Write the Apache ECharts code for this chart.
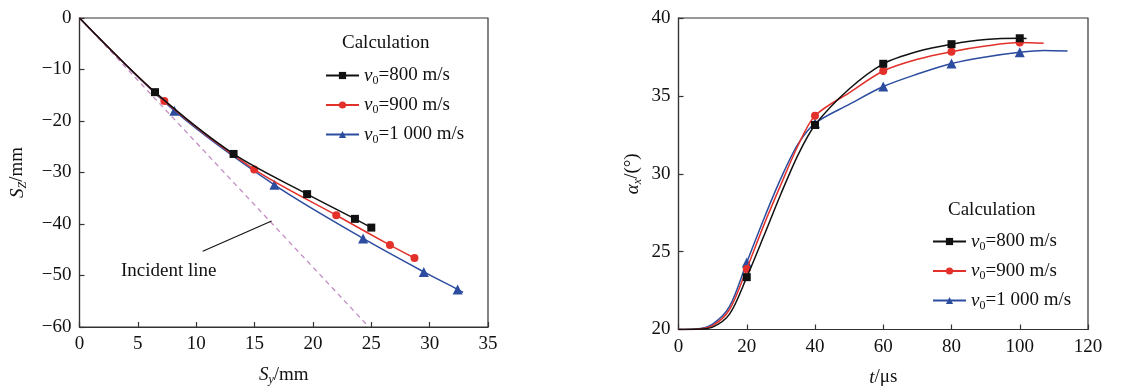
<!DOCTYPE html>
<html><head><meta charset="utf-8">
<script src="https://cdn.jsdelivr.net/npm/echarts@6/dist/echarts.min.js"></script>
<style>html,body{margin:0;padding:0;background:#fff}#c{width:1139px;height:392px}</style>
</head><body><div id="c"></div>
<script>
// ---- Left chart: trajectory Sy vs Sz ----
const sy800 = [0, 6.47, 13.2, 19.5, 23.6, 25.0];
const sz800 = [0, -14.4, -26.4, -34.2, -39.0, -40.7];
const sy900 = [0, 7.27, 14.97, 22.0, 26.6, 28.7];
const sz900 = [0, -16.1, -29.4, -38.3, -44.1, -46.6];
const sy1000 = [0, 8.13, 16.7, 24.3, 29.5, 32.4, 32.86];
const sz1000 = [0, -18.0, -32.4, -42.8, -49.3, -52.7, -53.3];
const leftMarked800 = [false, true, true, true, true, true];
const leftMarked900 = [false, true, true, true, true, true];
const leftMarked1000 = [false, true, true, true, true, true, false];
const incidentSy = [0, 24.8];
const incidentSz = [0, -60];
const pointerSy = [10.56, 16.46];
const pointerSz = [-45.3, -39.4];

// ---- Right chart: angle vs time ----
const t800 = [0, 5, 10, 15, 20, 25, 30, 35, 40, 50, 60, 70, 80, 90, 100, 102];
const a800 = [20, 20.01, 20.15, 21.0, 23.36, 26.0, 28.7, 31.2, 33.13, 35.44, 37.06, 37.85, 38.32, 38.62, 38.70, 38.68];
const t900 = [0, 5, 10, 15, 20, 25, 30, 35, 40, 50, 60, 70, 80, 90, 100, 107];
const a900 = [20, 20.02, 20.25, 21.3, 23.89, 26.7, 29.3, 31.8, 33.72, 35.2, 36.6, 37.35, 37.84, 38.2, 38.42, 38.38];
const t1000 = [0, 5, 10, 15, 20, 25, 30, 35, 40, 50, 60, 70, 80, 90, 100, 107, 114];
const a1000 = [20, 20.03, 20.35, 21.5, 24.3, 27.1, 29.7, 31.9, 33.24, 34.45, 35.6, 36.4, 37.08, 37.5, 37.8, 37.92, 37.88];
const markerTimes = [20, 40, 60, 80, 100];

const seriesNames = ['v0=800 m/s', 'v0=900 m/s', 'v0=1 000 m/s'];
const legendLabels = ['800 m/s', '900 m/s', '1 000 m/s'];
const legendTitle = 'Calculation';

const FONT = '"Liberation Serif","DejaVu Serif",serif';
const COLORS = ['#111111', '#e3302a', '#2b4c9f'];
const SYMBOLS = ['rect', 'circle', 'triangle'];
const SIZES = [8, 8, 10];

function pairs(xs, ys, marks) {
  return xs.map((x, i) => marks[i] ? [x, ys[i]] : {value: [x, ys[i]], symbol: 'none'});
}
function timePairs(ts, as) {
  return ts.map((t, i) => markerTimes.indexOf(t) >= 0 ? [t, as[i]] : {value: [t, as[i]], symbol: 'none'});
}
const minus = v => v < 0 ? '\u2212' + Math.abs(v) : String(v);

const richBase = {
  n: {fontFamily: FONT, fontSize: 19, color: '#111', lineHeight: 24, verticalAlign: 'middle'},
  i: {fontFamily: FONT, fontSize: 19, fontStyle: 'italic', color: '#111', lineHeight: 24, verticalAlign: 'middle'},
  s: {fontFamily: FONT, fontSize: 12, fontStyle: 'italic', color: '#111', lineHeight: 24, verticalAlign: 'bottom', padding: [0, 0, 1, 0]},
  s0: {fontFamily: FONT, fontSize: 12, color: '#111', lineHeight: 24, verticalAlign: 'bottom', padding: [0, 0, 1, 0]}
};

function legendFmt(name) {
  const k = seriesNames.indexOf(name);
  return '{i|v}{s0|0}{n|=' + legendLabels[k] + '}';
}

function axisCommon() {
  return {
    axisLine: {show: true, onZero: false, lineStyle: {color: '#333', width: 1.2}},
    axisTick: {show: true, inside: true, length: 5, lineStyle: {color: '#333', width: 1.2}},
    splitLine: {show: false},
    axisLabel: {fontFamily: FONT, fontSize: 19, color: '#111', margin: 8, formatter: minus},
    nameLocation: 'middle',
    nameTextStyle: {rich: richBase}
  };
}

const series = [];
const leftX = [sy800, sy900, sy1000], leftY = [sz800, sz900, sz1000], leftM = [leftMarked800, leftMarked900, leftMarked1000];
for (let k = 0; k < 3; k++) {
  series.push({
    name: seriesNames[k], type: 'line', xAxisIndex: 0, yAxisIndex: 0,
    data: pairs(leftX[k], leftY[k], leftM[k]), smooth: 0.3,
    symbol: SYMBOLS[k], symbolSize: SIZES[k], showAllSymbol: true,
    lineStyle: {color: COLORS[k], width: 1.5}, itemStyle: {color: COLORS[k]},
    z: 5 - k, animation: false
  });
}
series.push({
  name: 'incident', type: 'line', xAxisIndex: 0, yAxisIndex: 0,
  data: incidentSy.map((x, i) => [x, incidentSz[i]]), symbol: 'none',
  lineStyle: {color: '#c48dc4', width: 1.3, type: [5, 4]}, z: 1, animation: false
});
series.push({
  name: 'pointer', type: 'line', xAxisIndex: 0, yAxisIndex: 0,
  data: pointerSy.map((x, i) => [x, pointerSz[i]]), symbol: 'none',
  lineStyle: {color: '#111', width: 1.1}, z: 2, animation: false
});
const rightX = [t800, t900, t1000], rightY = [a800, a900, a1000];
for (let k = 0; k < 3; k++) {
  series.push({
    name: seriesNames[k], type: 'line', xAxisIndex: 1, yAxisIndex: 1,
    data: timePairs(rightX[k], rightY[k]), smooth: 0.3,
    symbol: SYMBOLS[k], symbolSize: SIZES[k], showAllSymbol: true,
    lineStyle: {color: COLORS[k], width: 1.5}, itemStyle: {color: COLORS[k]},
    z: 5 - k, animation: false
  });
}

const legendCommon = {
  orient: 'vertical', itemWidth: 33, itemHeight: 9, itemGap: 8,
  data: seriesNames, formatter: legendFmt, selectedMode: false,
  textStyle: {rich: richBase, padding: [0, 0, 0, 0]}
};

const chart = echarts.init(document.getElementById('c'), null, {renderer: 'canvas'});
chart.setOption({
  animation: false,
  backgroundColor: '#fff',
  grid: [
    {left: 79.5, top: 18, width: 408.5, height: 317, show: true, borderColor: '#333', borderWidth: 1.2, containLabel: false},
    {left: 678.5, top: 18, width: 409.5, height: 317, show: true, borderColor: '#333', borderWidth: 1.2, containLabel: false}
  ],
  xAxis: [
    Object.assign(axisCommon(), {gridIndex: 0, type: 'value', min: 0, max: 35, interval: 5,
      name: '{i|S}{s|y}{n|/mm}', nameGap: 36}),
    Object.assign(axisCommon(), {gridIndex: 1, type: 'value', min: 0, max: 120, interval: 20,
      name: '{i|t}{n|/\u03bcs}', nameGap: 36})
  ],
  yAxis: [
    Object.assign(axisCommon(), {gridIndex: 0, type: 'value', min: -60, max: 0, interval: 10,
      name: '{i|S}{s|Z}{n|/mm}', nameGap: 50}),
    Object.assign(axisCommon(), {gridIndex: 1, type: 'value', min: 20, max: 40, interval: 5,
      name: '{i|\u03b1}{s|x}{n|/(\u00b0)}', nameGap: 34})
  ],
  legend: [
    Object.assign({}, legendCommon, {left: 320, top: 61}),
    Object.assign({}, legendCommon, {left: 927, top: 227})
  ],
  graphic: [
    {type: 'text', left: 342, top: 34, style: {text: legendTitle, font: '19px ' + FONT, fill: '#111'}},
    {type: 'text', left: 948, top: 201, style: {text: legendTitle, font: '19px ' + FONT, fill: '#111'}},
    {type: 'text', left: 121, top: 262, style: {text: 'Incident line', font: '19px ' + FONT, fill: '#111'}}
  ],
  series: series
});
</script>
</body></html>
